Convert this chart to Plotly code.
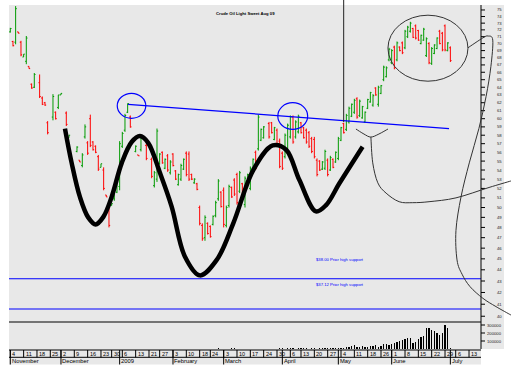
import math
import pandas as pd
import plotly.graph_objects as go

# ---------------- data ----------------
title_text = "Crude Oil Light Sweet Aug 09"

# trading-day index (0 = 2008-11-03)
days = [0, 1, 2, 3, 4, 5, 6, 7, 8, 9, 11, 12, 13, 14, 16, 17, 18, 19, 21, 22,
        25, 26, 27, 28, 29, 30, 31, 32, 33, 34, 35, 36, 37, 38, 39, 40, 41, 42, 43, 44,
        45, 47, 48, 49, 51, 53, 54, 55, 56, 57, 58, 59, 60, 61, 62, 63, 64, 65, 66, 67,
        68, 69, 70, 71, 72, 73, 74, 75, 76, 77, 78, 79, 80, 81, 82, 83, 84, 85, 86, 87,
        88, 89, 90, 91, 92, 93, 94, 95, 97, 98, 99, 100, 101, 102, 103, 104, 105, 106, 107, 108,
        109, 110, 111, 112, 113, 114, 115, 116, 117, 118, 119, 120, 121, 122, 123, 124, 125, 126, 127, 128,
        129, 130, 131, 132, 133, 134, 135, 136, 137, 138, 139, 140, 141, 142, 143, 144, 145, 146, 147, 148,
        149, 150, 151, 152, 153, 154, 155, 156, 157, 158, 159, 160, 161, 162, 163, 164, 165]
open_ = [71.7, 70.3, 70.2, 71.7, 70.2, 68.1, 67.5, 66.8, 64.4, 64.0, 64.6, 62.6, 62.0, 59.5, 60.2, 60.8, 61.4, 63.0, 60.7, 57.7,
         56.1, 55.1, 54.5, 57.8, 57.1, 60.0, 57.2, 56.7, 55.5, 54.3, 54.0, 51.3, 49.8, 50.2, 50.9, 51.6, 52.2, 56.7, 58.6, 60.8,
         60.2, 56.1, 55.7, 56.3, 56.8, 55.2, 52.3, 53.0, 54.7, 56.0, 54.2, 55.6, 53.7, 55.8, 53.9, 52.4, 53.0, 54.1, 55.9, 55.8,
         53.5, 52.6, 52.5, 50.0, 48.2, 47.0, 48.4, 48.1, 48.3, 49.2, 50.9, 51.6, 51.8, 48.2, 50.2, 52.1, 52.9, 53.5, 51.7, 52.5,
         50.3, 52.2, 52.0, 53.8, 56.0, 56.4, 57.4, 57.7, 59.4, 59.5, 57.5, 58.6, 57.3, 55.9, 55.5, 56.4, 57.8, 60.2, 57.8, 58.4,
         59.5, 58.9, 58.6, 58.3, 57.6, 57.5, 55.1, 55.0, 54.1, 54.2, 55.1, 54.0, 55.2, 54.9, 55.3, 57.4, 59.4, 58.7, 59.6, 60.3,
         60.8, 62.5, 60.4, 60.1, 59.6, 61.3, 62.1, 61.7, 63.9, 61.8, 63.2, 65.0, 65.4, 67.7, 67.3, 69.5, 67.7, 69.5, 70.1, 69.4,
         71.0, 71.8, 72.2, 72.6, 71.9, 70.0, 70.5, 68.3, 70.0, 67.2, 68.6, 69.3, 71.8, 71.5, 72.6, 69.0, 69.4]
high = [72.3, 70.4, 75.6, 71.7, 70.4, 68.5, 71.1, 66.8, 64.5, 65.9, 65.7, 62.8, 62.1, 59.7, 63.1, 60.9, 63.0, 63.2, 60.9, 58.0,
        56.7, 55.1, 55.9, 59.3, 57.3, 60.5, 57.3, 56.8, 55.7, 54.7, 54.3, 51.3, 50.0, 50.4, 52.4, 52.8, 57.3, 58.4, 60.6, 61.9,
        60.4, 56.8, 55.7, 58.0, 57.0, 55.4, 53.9, 58.8, 55.9, 56.1, 55.3, 55.8, 55.1, 55.9, 54.0, 53.6, 54.7, 55.3, 56.1, 56.1,
        53.6, 53.1, 52.6, 50.2, 48.4, 49.2, 48.5, 48.2, 49.2, 50.7, 53.0, 51.7, 52.1, 50.2, 52.4, 52.2, 53.1, 53.7, 53.9, 52.6,
        53.3, 53.6, 54.4, 55.3, 56.2, 60.5, 58.8, 59.1, 59.6, 59.6, 59.0, 58.8, 57.6, 56.1, 58.2, 59.4, 60.4, 60.4, 59.8, 60.5,
        59.6, 59.0, 58.8, 58.5, 57.8, 57.8, 55.3, 55.1, 55.0, 56.3, 55.3, 55.6, 55.3, 56.1, 57.8, 59.0, 59.5, 60.6, 61.5, 61.9,
        62.5, 62.7, 62.4, 61.6, 60.9, 62.5, 63.4, 63.1, 64.0, 64.2, 64.3, 66.9, 66.8, 69.4, 69.2, 69.7, 70.3, 69.6, 70.3, 72.0,
        72.6, 73.2, 72.3, 72.8, 72.0, 71.3, 72.3, 70.9, 70.2, 69.5, 69.9, 70.9, 72.0, 71.7, 72.8, 70.2, 69.6]
low = [71.6, 69.6, 69.9, 71.5, 68.2, 68.1, 67.1, 66.5, 63.8, 63.9, 62.6, 61.7, 61.6, 58.1, 59.8, 59.9, 61.2, 63.0, 59.1, 57.7,
       56.0, 54.9, 54.3, 57.6, 55.7, 56.6, 56.2, 55.9, 53.9, 54.3, 51.8, 51.1, 48.0, 50.2, 50.7, 51.5, 51.8, 56.5, 58.4, 60.7,
       58.9, 56.0, 55.6, 56.1, 55.1, 53.1, 52.1, 52.7, 54.6, 54.7, 54.1, 53.8, 53.5, 54.4, 52.9, 52.3, 52.8, 54.0, 53.3, 52.8,
       52.9, 52.5, 51.8, 48.2, 46.7, 46.7, 47.3, 47.0, 48.2, 49.0, 50.7, 50.0, 48.0, 48.0, 50.0, 51.0, 51.2, 50.3, 51.5, 51.2,
       50.0, 52.1, 51.8, 53.6, 54.0, 56.2, 57.3, 57.6, 57.6, 58.2, 57.4, 56.8, 54.2, 54.0, 55.3, 56.2, 57.6, 57.0, 57.6, 58.2,
       58.2, 57.6, 57.0, 56.5, 55.9, 55.3, 53.3, 53.9, 54.0, 54.0, 53.3, 53.9, 54.2, 54.8, 55.1, 57.3, 58.2, 58.5, 59.4, 60.2,
       60.6, 60.0, 60.2, 60.0, 59.5, 61.2, 62.0, 61.5, 62.9, 61.5, 63.1, 64.8, 65.3, 67.5, 67.1, 66.4, 67.5, 68.9, 68.5, 69.2,
       70.8, 71.6, 70.8, 70.6, 70.4, 69.9, 70.4, 68.1, 67.1, 67.0, 68.5, 69.2, 69.9, 68.9, 68.9, 68.9, 67.4]
close = [72.2, 69.7, 75.2, 71.5, 68.4, 68.5, 70.8, 66.5, 63.9, 65.7, 62.8, 61.8, 61.7, 58.3, 62.8, 60.0, 63.0, 63.2, 59.3, 58.0,
         56.6, 54.9, 55.7, 59.0, 55.9, 56.8, 56.3, 56.0, 54.1, 54.7, 52.0, 51.1, 48.2, 50.4, 52.2, 52.7, 57.0, 58.2, 60.4, 61.9,
         59.0, 56.7, 55.6, 57.8, 55.3, 53.3, 53.7, 58.5, 55.8, 54.8, 55.2, 54.0, 54.9, 54.5, 53.0, 53.5, 54.5, 55.2, 53.5, 53.0,
         53.0, 53.0, 51.9, 48.4, 46.9, 49.0, 47.4, 47.1, 49.1, 50.5, 52.8, 50.1, 48.3, 50.0, 52.2, 51.1, 51.4, 50.5, 53.7, 51.3,
         53.1, 53.5, 54.2, 55.2, 54.2, 60.2, 58.7, 59.0, 57.8, 58.3, 58.9, 57.0, 54.4, 54.2, 58.0, 59.2, 60.2, 57.2, 59.6, 60.3,
         58.3, 57.7, 57.2, 56.7, 56.1, 55.5, 53.5, 54.0, 54.9, 56.1, 53.5, 55.4, 54.3, 56.0, 57.6, 58.9, 58.3, 60.4, 61.3, 61.8,
         62.3, 60.2, 62.2, 61.5, 60.8, 62.4, 63.3, 62.9, 63.0, 64.0, 64.2, 66.7, 66.6, 69.2, 69.0, 66.6, 70.1, 69.0, 68.7, 71.8,
         72.4, 73.0, 70.9, 70.8, 70.5, 71.2, 72.1, 70.7, 67.3, 69.3, 69.8, 70.8, 70.0, 69.1, 69.1, 70.1, 67.6]

vol_days = list(range(75, 96)) + list(range(97, 166))
volume = [3000, 3000, 3000, 10000, 3000, 3000, 3000, 3000, 10000, 10000, 3000, 3000, 3000, 3000, 3000, 3000, 3000, 3000, 3000, 3000, 3000,
          3000, 3000, 3000, 3000, 8000, 8000, 6000, 8000, 8000, 8000, 6000, 8000, 8000, 8000, 8000, 6000, 8000, 10000, 6000,
          12000, 12000, 16000, 16000, 12000, 8000, 12000, 12000, 16000, 17000, 21000, 25000, 42000, 50000, 25000, 25000,
          42000, 25000, 21000, 33000, 42000, 50000, 25000, 42000, 62000, 62000, 50000, 67000, 75000, 83000, 96000, 117000,
          125000, 137000, 137000, 75000, 92000, 125000, 150000, 167000, 262000, 267000, 233000, 221000, 200000, 179000,
          200000, 304000, 262000, 17000]

price_ticks = list(range(40, 76))
vol_ticks = [100000, 200000, 300000]

support_levels = [43.2, 40.6]
support_labels = ["$38.00 Prior high support", "$37.12 Prior high support"]

holidays = ["2008-11-27", "2008-12-25", "2009-01-01", "2009-01-19", "2009-02-16",
            "2009-04-10", "2009-05-25", "2009-07-03"]
week_starts = ["2008-11-03", "2008-11-10", "2008-11-17", "2008-11-24", "2008-12-01", "2008-12-08",
               "2008-12-15", "2008-12-22", "2008-12-29", "2009-01-05", "2009-01-12", "2009-01-20",
               "2009-01-26", "2009-02-02", "2009-02-09", "2009-02-17", "2009-02-23", "2009-03-02",
               "2009-03-09", "2009-03-16", "2009-03-23", "2009-03-30", "2009-04-06", "2009-04-13",
               "2009-04-20", "2009-04-27", "2009-05-04", "2009-05-11", "2009-05-18", "2009-05-26",
               "2009-06-01", "2009-06-08", "2009-06-15", "2009-06-22", "2009-06-29", "2009-07-06",
               "2009-07-13"]
week_labels = ["4", "11", "18", "25", "2", "9", "16", "23", "30", "6", "13", "21", "27", "3", "10",
               "18", "24", "3", "10", "17", "24", "30", "6", "13", "20", "27", "4", "11", "18", "26",
               "1", "8", "15", "22", "29", "6", "13"]
month_starts = ["2008-11-03", "2008-12-01", "2009-01-02", "2009-02-02", "2009-03-02",
                "2009-04-01", "2009-05-01", "2009-06-01", "2009-07-01"]
month_labels = ["November", "December", "2009", "February", "March", "April", "May", "June", "July"]

# hand-drawn annotations, in (trading-day index, price)
hs_x = [20.5, 23.0, 26.1, 29.2, 32.0, 34.9, 38.0, 41.8, 45.5, 48.6, 51.7, 56.1, 60.5, 65.5, 71.1,
        77.4, 83.6, 91.1, 98.4, 103.4, 108.4, 114.6, 118.4, 123.4, 132.1]
hs_y = [58.8, 54.8, 51.1, 49.0, 48.3, 49.05, 51.1, 54.8, 57.2, 57.9, 57.1, 53.7, 50.1, 45.2, 43.5,
        44.9, 48.4, 54.0, 56.8, 56.3, 52.9, 49.6, 50.25, 52.55, 56.65]
neck_x = [44.1, 164.5]
neck_y = [61.8, 58.8]
blue_circles = [(40.1, 50.8, 60.05, 63.2), (100.3, 111.5, 58.7, 62.0)]
black_ellipse = (141.6, 171.6, 64.8, 74.2)
right_curve = [(171.6, 69.4), (177.1, 70.8), (179.1, 71.1), (180.9, 70.5), (180.2, 66.8), (178.4, 62.8),
               (175.7, 58.8), (172.1, 54.8), (169.0, 51.1), (167.1, 47.7), (167.5, 44.9), (169.4, 43.6),
               (172.4, 42.5), (177.2, 41.5), (182.1, 40.8), (187.7, 40.1)]
bracket = [(129.6, 58.74), (132.6, 58.14), (135.2, 57.78), (138.2, 58.14), (141.6, 58.74)]
bracket_tail = [(135.2, 57.78), (135.9, 54.8), (137.8, 52.6), (140.9, 51.5), (145.8, 50.6), (150.9, 50.5),
                (157.0, 50.6), (167.1, 51.0), (179.5, 52.1), (187.7, 52.8)]
vline_day = 125.0
vline_prices = (59.6, 76.6)

# ---------------- layout geometry ----------------
W, H = 512, 373
ML, MR, MT, MB = 9, 31, 5, 24
PW, PH = W - ML - MR, H - MT - MB
X0, X1 = -0.4875, 176.49
PMIN, PMAX = 39.53, 75.77
L0, L1 = math.log10(PMIN), math.log10(PMAX)
DOM0 = 27 / PH
VMAX = 337500
GRAY = "#e8e8e8"
GREEN = "#009a00"
RED = "#ff0000"
BLUE = "#0000ff"
FONT = "Liberation Sans"

def xp(i):
    return (i - X0) / (X1 - X0)

def yp(p):
    return DOM0 + (math.log10(p) - L0) / (L1 - L0) * (1 - DOM0)

def yv(v):
    return v / VMAX * DOM0

def pxx(px):
    return (px - ML) / PW

def pxy(py):
    return (H - MB - py) / PH

def smooth_path(pts):
    P = [(xp(i), yp(p)) for i, p in pts]
    d = "M%.5f,%.5f" % P[0]
    for k in range(len(P) - 1):
        p0 = P[k - 1] if k > 0 else P[k]
        p1, p2 = P[k], P[k + 1]
        p3 = P[k + 2] if k + 2 < len(P) else P[k + 1]
        c1 = (p1[0] + (p2[0] - p0[0]) / 6, p1[1] + (p2[1] - p0[1]) / 6)
        c2 = (p2[0] - (p3[0] - p1[0]) / 6, p2[1] - (p3[1] - p1[1]) / 6)
        d += " C%.5f,%.5f %.5f,%.5f %.5f,%.5f" % (c1[0], c1[1], c2[0], c2[1], p2[0], p2[1])
    return d

tdays = [d.strftime("%Y-%m-%d") for d in pd.bdate_range("2008-11-03", "2009-07-17")]
tdays = [d for d in tdays if d not in holidays]
day_index = {d: k for k, d in enumerate(tdays)}

fig = go.Figure()
fig.add_trace(go.Ohlc(x=days, open=open_, high=high, low=low, close=close,
                      increasing=dict(line=dict(color=GREEN, width=1)),
                      decreasing=dict(line=dict(color=RED, width=1)),
                      tickwidth=0.45, showlegend=False, hoverinfo="skip"))
fig.add_trace(go.Bar(x=vol_days, y=volume, yaxis="y2", width=0.4,
                     marker=dict(color="black", line=dict(width=0)), showlegend=False, hoverinfo="skip"))
for lvl in support_levels:
    fig.add_trace(go.Scatter(x=[X0, X1], y=[lvl, lvl], mode="lines",
                             line=dict(color=BLUE, width=1.2), showlegend=False, hoverinfo="skip"))
fig.add_trace(go.Scatter(x=neck_x, y=neck_y, mode="lines", line=dict(color=BLUE, width=1.2),
                         showlegend=False, hoverinfo="skip"))
fig.add_trace(go.Scatter(x=hs_x, y=hs_y, mode="lines", line=dict(color="black", width=4.5, shape="spline", smoothing=1),
                         showlegend=False, hoverinfo="skip"))

shapes = []
shapes.append(dict(type="rect", xref="paper", yref="paper", x0=1, x1=pxx(504), y0=0, y1=1,
                   fillcolor=GRAY, line=dict(width=0), layer="below"))
shapes.append(dict(type="rect", xref="paper", yref="paper", x0=0, x1=1, y0=pxy(364.5), y1=0,
                   fillcolor=GRAY, line=dict(width=0), layer="below"))
shapes.append(dict(type="line", xref="paper", yref="paper", x0=0, x1=1, y0=DOM0, y1=DOM0,
                   line=dict(color="black", width=1.2)))
# right axis lines and ticks
shapes.append(dict(type="line", xref="paper", yref="paper", x0=1, x1=1, y0=0, y1=1,
                   line=dict(color="black", width=1)))
for v in price_ticks:
    shapes.append(dict(type="line", xref="paper", yref="paper", x0=1, x1=pxx(485), y0=yp(v), y1=yp(v),
                       line=dict(color="black", width=1)))
for v in vol_ticks:
    shapes.append(dict(type="line", xref="paper", yref="paper", x0=1, x1=pxx(485), y0=yv(v), y1=yv(v),
                       line=dict(color="black", width=1)))
# date grid
for yy in (350, 357.3):
    shapes.append(dict(type="line", xref="paper", yref="paper", x0=0, x1=1, y0=pxy(yy), y1=pxy(yy),
                       line=dict(color="black", width=1)))
for d in week_starts:
    x = xp(day_index[d])
    shapes.append(dict(type="line", xref="paper", yref="paper", x0=x, x1=x, y0=pxy(357.3), y1=pxy(350),
                       line=dict(color="black", width=1)))
for d in month_starts:
    x = xp(day_index[d])
    shapes.append(dict(type="line", xref="paper", yref="paper", x0=x, x1=x, y0=pxy(364.5), y1=pxy(350),
                       line=dict(color="black", width=1)))
# ellipses (converted through the axis scales)
for (a, b, lo, hi) in blue_circles:
    shapes.append(dict(type="circle", xref="paper", yref="paper", x0=xp(a), x1=xp(b), y0=yp(lo), y1=yp(hi),
                       line=dict(color=BLUE, width=1.2)))
a, b, lo, hi = black_ellipse
shapes.append(dict(type="circle", xref="paper", yref="paper", x0=xp(a), x1=xp(b), y0=yp(lo), y1=yp(hi),
                   line=dict(color="#333333", width=1)))
for pts in (right_curve, bracket, bracket_tail):
    shapes.append(dict(type="path", xref="paper", yref="paper", path=smooth_path(pts),
                       line=dict(color="#333333", width=1)))
shapes.append(dict(type="line", xref="paper", yref="paper", x0=xp(vline_day), x1=xp(vline_day),
                   y0=yp(vline_prices[0]), y1=yp(vline_prices[1]), line=dict(color="#222222", width=1)))

ann = []
ann.append(dict(text="<b>%s</b>" % title_text, xref="paper", yref="paper", x=pxx(245), y=pxy(9.5),
                showarrow=False, font=dict(family=FONT, size=4.2, color="black"), borderpad=0))
for lvl, lab, dy in zip(support_levels, support_labels, (15.5, 21)):
    ann.append(dict(text=lab, xref="x", yref="paper", x=123.6, y=yp(lvl), yshift=dy, showarrow=False,
                    font=dict(family=FONT, size=4.2, color=BLUE), borderpad=0))
for v in price_ticks:
    ann.append(dict(text=str(v), xref="paper", yref="paper", x=pxx(503), y=yp(v), xanchor="right",
                    yanchor="middle", showarrow=False, borderpad=0,
                    font=dict(family=FONT, size=4.2, color="#222")))
for v in vol_ticks:
    ann.append(dict(text=str(v), xref="paper", yref="paper", x=pxx(503), y=yv(v), xanchor="right",
                    yanchor="middle", showarrow=False, borderpad=0,
                    font=dict(family=FONT, size=4.2, color="#222")))
for d, lab in zip(week_starts, week_labels):
    ann.append(dict(text=lab, xref="paper", yref="paper", x=xp(day_index[d]), y=pxy(353.7),
                    xanchor="left", yanchor="middle", xshift=1, showarrow=False, borderpad=0,
                    font=dict(family=FONT, size=5.5, color="black")))
for d, lab in zip(month_starts, month_labels):
    ann.append(dict(text=lab, xref="paper", yref="paper", x=xp(day_index[d]), y=pxy(361),
                    xanchor="left", yanchor="middle", xshift=0.5, showarrow=False, borderpad=0,
                    font=dict(family=FONT, size=5.8, color="black")))

fig.update_layout(
    width=W, height=H, margin=dict(l=ML, r=MR, t=MT, b=MB, pad=0),
    paper_bgcolor="white", plot_bgcolor=GRAY, showlegend=False,
    xaxis=dict(range=[X0, X1], showticklabels=False, showgrid=False, zeroline=False, ticks="",
               rangeslider=dict(visible=False), anchor="y2", fixedrange=True),
    yaxis=dict(type="log", range=[L0, L1], domain=[DOM0, 1], side="right", anchor="x",
               showticklabels=False, ticks="", showline=False, showgrid=False, zeroline=False),
    yaxis2=dict(range=[0, VMAX], domain=[0, DOM0], side="right", anchor="x",
                showticklabels=False, ticks="", showline=False, showgrid=False, zeroline=False),
    shapes=shapes, annotations=ann, bargap=0,
)

fig.write_html("out.html", config={"displayModeBar": False, "staticPlot": True},
               post_script="document.body.style.margin='0px';document.body.style.padding='0px';")
